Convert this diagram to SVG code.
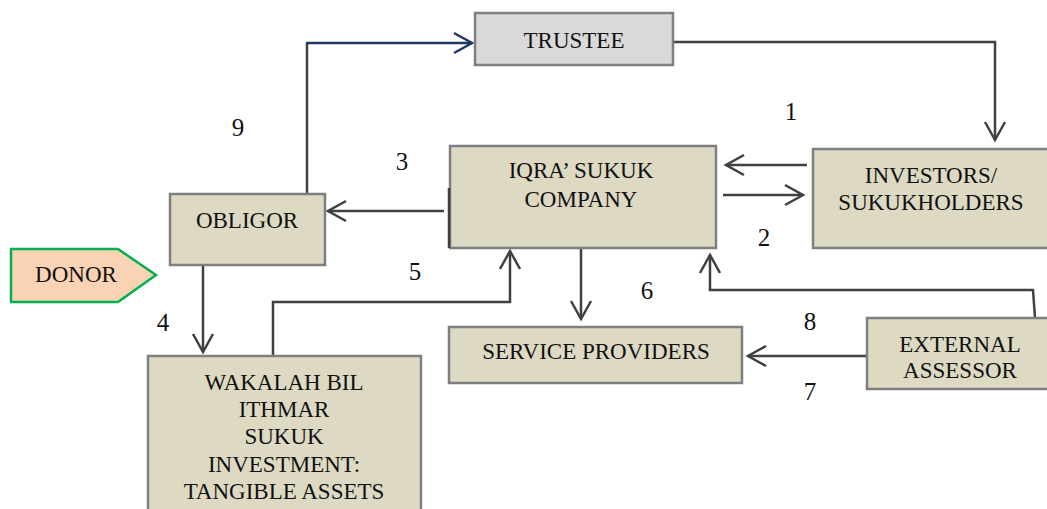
<svg xmlns="http://www.w3.org/2000/svg" width="1047" height="509" viewBox="0 0 1047 509">
<defs>
<style>
.box{fill:#ddd9c3;stroke:#7f7f7f;stroke-width:2.5}
.gray{fill:#d9d9d9;stroke:#7f7f7f;stroke-width:2.5}
.t{font-family:"Liberation Serif","Times New Roman",serif;font-size:23px;fill:#111;text-anchor:middle}
.n{font-family:"Liberation Serif","Times New Roman",serif;font-size:25px;fill:#111;text-anchor:middle}
.c{fill:none;stroke:#404040;stroke-width:2.5}
.b{fill:none;stroke:#1f3864;stroke-width:2.5}
</style>
<marker id="ah" markerUnits="userSpaceOnUse" markerWidth="26" markerHeight="26" viewBox="-22 -13 26 26" refX="0" refY="0" orient="auto">
<path d="M-18,-10 L0,0 L-18,10" fill="none" stroke="#404040" stroke-width="2.5"/>
</marker>
<marker id="ahb" markerUnits="userSpaceOnUse" markerWidth="26" markerHeight="26" viewBox="-22 -13 26 26" refX="0" refY="0" orient="auto">
<path d="M-18,-10 L0,0 L-18,10" fill="none" stroke="#1f3864" stroke-width="2.5"/>
</marker>
</defs>
<rect width="1047" height="509" fill="#fff"/>
<g id="connectors">
<path class="c" d="M307,194 V43"/>
<path class="b" d="M306,43 H472" marker-end="url(#ahb)"/>
<path class="c" d="M673,42 H995 V140" marker-end="url(#ah)"/>
<path class="c" d="M807,165 H726" marker-end="url(#ah)"/>
<path class="c" d="M723,195 H803" marker-end="url(#ah)"/>
<path class="c" d="M444,211 H328" marker-end="url(#ah)"/>
<path class="c" d="M203,265 V352" marker-end="url(#ah)"/>
<path class="c" d="M273,355 V302 H510 V251" marker-end="url(#ah)"/>
<path class="c" d="M581,248 V319" marker-end="url(#ah)"/>
<path class="c" d="M867,356 H748" marker-end="url(#ah)"/>
<path class="c" d="M1035,318 L1033,290 H710 V255" marker-end="url(#ah)"/>
</g>
<g id="trustee">
<rect class="gray" x="475" y="13" width="198" height="52"/>
<text class="t" x="574" y="48">TRUSTEE</text>
</g>
<g id="investors">
<rect class="box" x="813" y="149" width="238" height="99"/>
<text class="t" x="931" y="183">INVESTORS/</text>
<text class="t" x="931" y="210">SUKUKHOLDERS</text>
</g>
<g id="iqra">
<rect class="box" x="450" y="146" width="266" height="102"/>
<path d="M449,188 V248" stroke="#404040" stroke-width="2.5"/>
<text class="t" x="581" y="178">IQRA’ SUKUK</text>
<text class="t" x="581" y="207">COMPANY</text>
</g>
<g id="obligor">
<rect class="box" x="170" y="194" width="155" height="71"/>
<text class="t" x="247" y="228">OBLIGOR</text>
</g>
<g id="donor">
<path d="M11,249 H118 L156,275 L118,302 H11 Z" fill="#f9d3b4" stroke="#00b050" stroke-width="2.5"/>
<text class="t" x="76" y="282">DONOR</text>
</g>
<g id="wakalah">
<rect class="box" x="148" y="356" width="273" height="160"/>
<text class="t" x="284" y="390">WAKALAH BIL</text>
<text class="t" x="284" y="417">ITHMAR</text>
<text class="t" x="284" y="444">SUKUK</text>
<text class="t" x="284" y="472">INVESTMENT:</text>
<text class="t" x="284" y="499">TANGIBLE ASSETS</text>
</g>
<g id="service">
<rect class="box" x="449" y="327" width="293" height="56"/>
<text class="t" x="596" y="359">SERVICE PROVIDERS</text>
</g>
<g id="assessor">
<rect class="box" x="867" y="318" width="186" height="71"/>
<text class="t" x="960" y="352">EXTERNAL</text>
<text class="t" x="960" y="378">ASSESSOR</text>
</g>
<g id="labels">
<text class="n" x="791" y="120">1</text>
<text class="n" x="764" y="246">2</text>
<text class="n" x="402" y="170">3</text>
<text class="n" x="163" y="331">4</text>
<text class="n" x="415" y="280">5</text>
<text class="n" x="647" y="299">6</text>
<text class="n" x="810" y="400">7</text>
<text class="n" x="810" y="330">8</text>
<text class="n" x="238" y="136">9</text>
</g>
</svg>
